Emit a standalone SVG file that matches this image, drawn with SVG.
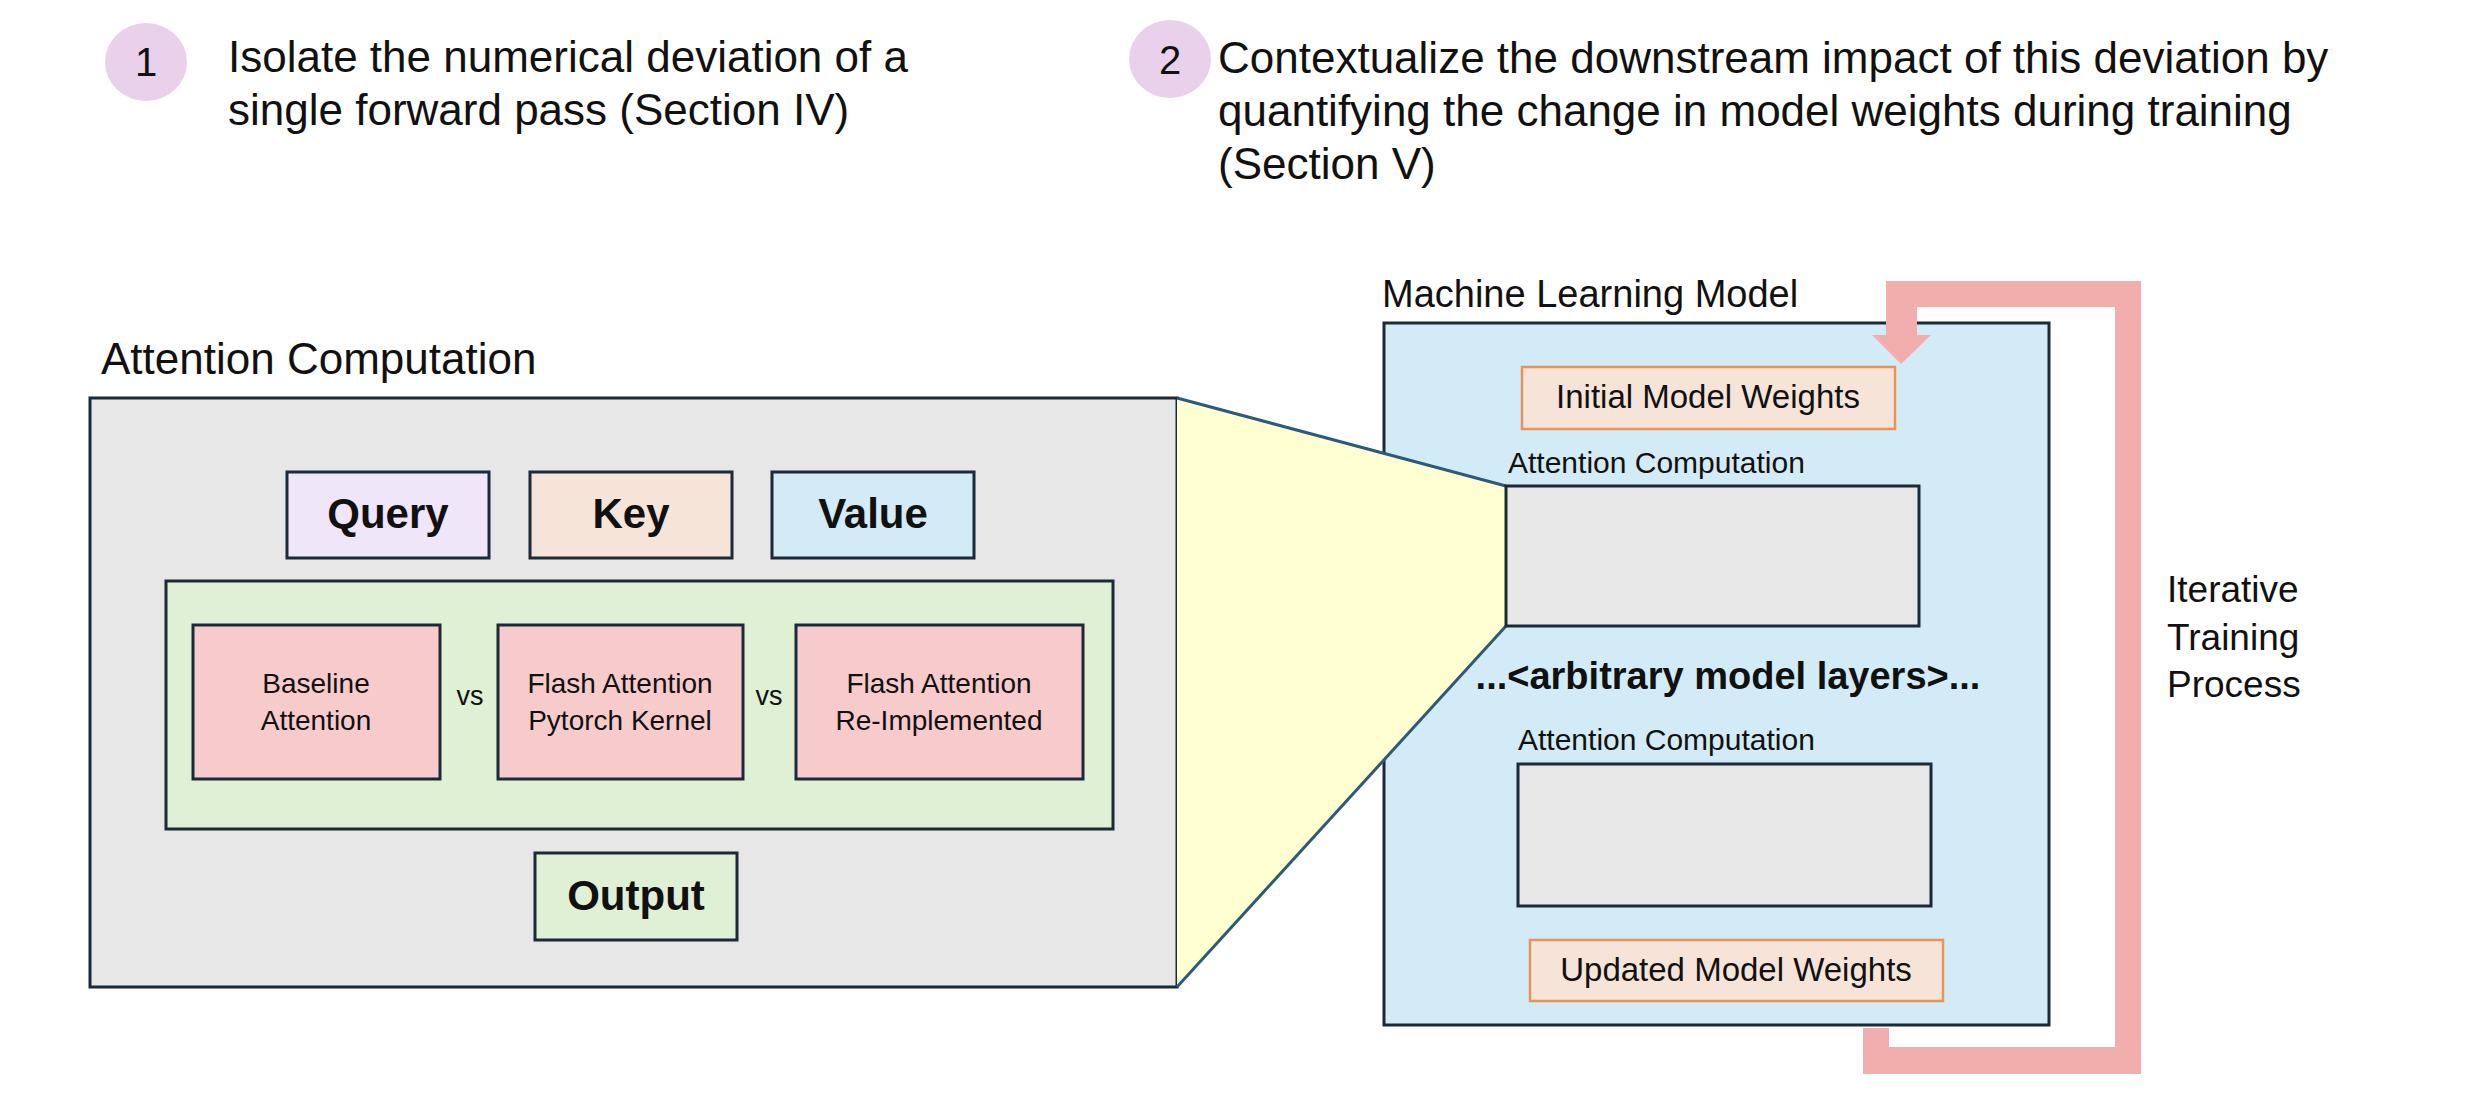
<svg xmlns="http://www.w3.org/2000/svg" width="2468" height="1114" viewBox="0 0 2468 1114">
<style>
text{font-family:"Liberation Sans",Arial,sans-serif;fill:#111;}
.box{stroke:#1b2a38;stroke-width:3;}
.w{stroke:#ec9158;stroke-width:2.5;fill:#f7e4d8;}
.big{font-size:44px;}
.sm{font-size:30px;}
.red{fill:#f7cbcb;}
.in{font-size:28px;}
.b{font-weight:bold;font-size:42px;}
.mid{text-anchor:middle;}
</style>
<rect width="2468" height="1114" fill="#ffffff"/>

<g id="step1">
<ellipse cx="146" cy="62" rx="41" ry="39" fill="#ead1eb"/>
<text class="mid" x="146" y="76" font-size="40">1</text>
<text class="big" x="228" y="72">Isolate the numerical deviation of a</text>
<text class="big" x="228" y="125">single forward pass (Section IV)</text>
</g>

<g id="step2">
<ellipse cx="1170" cy="59" rx="41" ry="39" fill="#ead1eb"/>
<text class="mid" x="1170" y="74" font-size="40">2</text>
<text class="big" x="1218" y="73">Contextualize the downstream impact of this deviation by</text>
<text class="big" x="1218" y="126">quantifying the change in model weights during training</text>
<text class="big" x="1218" y="179">(Section V)</text>
</g>

<g id="attention-computation">
<text class="big" x="101" y="374">Attention Computation</text>
<rect class="box" x="90" y="398" width="1087" height="589" fill="#e7e7e7"/>
</g>

<g id="ml-model">
<text x="1382" y="307" font-size="38">Machine Learning Model</text>
<rect class="box" x="1384" y="323" width="665" height="702" fill="#d2ebf7"/>
</g>

<g id="connectors">
<polygon points="1177,398 1506,486 1506,626 1177,987" fill="#ffffd1"/>
<line x1="1177" y1="398" x2="1506" y2="486" stroke="#2c5a7c" stroke-width="3"/>
<line x1="1177" y1="987" x2="1506" y2="626" stroke="#2c5a7c" stroke-width="3"/>
<polygon points="1863,1028 1889,1028 1889,1047 2115,1047 2115,307 1917,307 1917,335 1931,335 1901,364 1872,335 1886,335 1886,281 2141,281 2141,1074 1863,1074" fill="#f2adad"/>
</g>

<g id="query">
<rect class="box" x="287" y="472" width="202" height="86" fill="#efe6fa"/>
<text class="b mid" x="388" y="528">Query</text>
</g>
<g id="key">
<rect class="box" x="530" y="472" width="202" height="86" fill="#f7e4d8"/>
<text class="b mid" x="631" y="528">Key</text>
</g>
<g id="value">
<rect class="box" x="772" y="472" width="202" height="86" fill="#d2ebf7"/>
<text class="b mid" x="873" y="528">Value</text>
</g>

<g id="methods">
<rect class="box" x="166" y="581" width="947" height="248" fill="#e0f0d4"/>
<text class="mid" x="470" y="705" font-size="27">vs</text>
<text class="mid" x="769" y="705" font-size="27">vs</text>
</g>
<g id="baseline-attention">
<rect class="box red" x="193" y="625" width="247" height="154"/>
<text class="in mid" x="316" y="693">Baseline</text>
<text class="in mid" x="316" y="730">Attention</text>
</g>
<g id="flash-pytorch">
<rect class="box red" x="498" y="625" width="245" height="154"/>
<text class="in mid" x="620" y="693">Flash Attention</text>
<text class="in mid" x="620" y="730">Pytorch Kernel</text>
</g>
<g id="flash-reimpl">
<rect class="box red" x="796" y="625" width="287" height="154"/>
<text class="in mid" x="939" y="693">Flash Attention</text>
<text class="in mid" x="939" y="730">Re-Implemented</text>
</g>

<g id="output">
<rect class="box" x="535" y="853" width="202" height="87" fill="#e0f0d4"/>
<text class="b mid" x="636" y="910">Output</text>
</g>

<g id="initial-weights">
<rect class="w" x="1522" y="367" width="373" height="62"/>
<text class="mid" x="1708" y="408" font-size="33">Initial Model Weights</text>
</g>

<g id="attention-1">
<text class="sm" x="1508" y="473">Attention Computation</text>
<rect class="box" x="1506" y="486" width="413" height="140" fill="#e7e7e7"/>
</g>

<g id="layers">
<text class="mid" x="1728" y="689" font-size="38" font-weight="bold">...&lt;arbitrary model layers&gt;...</text>
</g>

<g id="attention-2">
<text class="sm" x="1518" y="750">Attention Computation</text>
<rect class="box" x="1518" y="764" width="413" height="142" fill="#e7e7e7"/>
</g>

<g id="updated-weights">
<rect class="w" x="1530" y="940" width="413" height="61"/>
<text class="mid" x="1736" y="981" font-size="33">Updated Model Weights</text>
</g>

<g id="iterative">
<text x="2167" y="602" font-size="37">Iterative</text>
<text x="2167" y="650" font-size="37">Training</text>
<text x="2167" y="697" font-size="37">Process</text>
</g>
</svg>
